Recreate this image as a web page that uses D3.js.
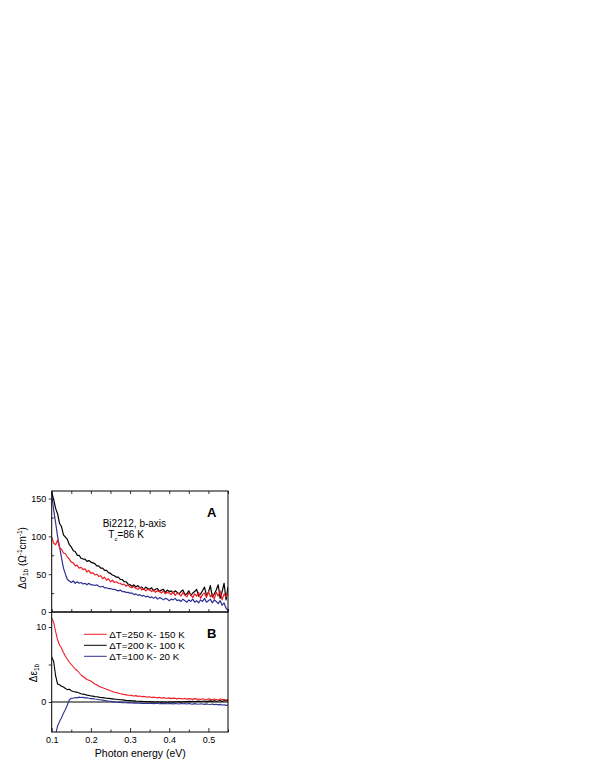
<!DOCTYPE html>
<html>
<head>
<meta charset="utf-8">
<script src="https://cdn.jsdelivr.net/npm/d3@7"></script>
<style>
  html, body { margin: 0; padding: 0; background: #fff; }
  svg { display: block; font-family: "Liberation Sans", Arial, sans-serif; }
</style>
</head>
<body>
<svg id="chart" width="599" height="776"></svg>
<script>
// ---------- data ----------
const energy = [
  0.100,0.105,0.110,0.115,0.120,0.125,0.130,0.135,0.140,0.145,
  0.150,0.155,0.160,0.165,0.170,0.175,0.180,0.185,0.190,0.195,
  0.200,0.205,0.210,0.215,0.220,0.225,0.230,0.235,0.240,0.245,
  0.250,0.255,0.260,0.265,0.270,0.275,0.280,0.285,0.290,0.295,
  0.300,0.305,0.310,0.315,0.320,0.325,0.330,0.335,0.340,0.345,
  0.350,0.355,0.360,0.365,0.370,0.375,0.380,0.385,0.390,0.395,
  0.400,0.405,0.410,0.415,0.420,0.425,0.430,0.435,0.440,0.445,
  0.450,0.455,0.460,0.465,0.470,0.475,0.480,0.485,0.490,0.495,
  0.500,0.505,0.510,0.515,0.520,0.525,0.530,0.535,0.540,0.545,
  0.550
];

// Panel A: Δσ1b (Ω^-1 cm^-1)
const sigma250_150 = [
  99,91,89,95,85,83,78,77,73,70,
  66,65,61,62,58,59,56,57,53,55,
  51,52,49,50,47,48,44,46,42,44,
  40,42,39,40,38,38,36,37,34,36,
  33,
  32,34,31,30,33,29,31,28,30,29,
  27,30,26,28,27,25,28,24,26,25,
  23,27,22,25,24,21,26,22,20,25,
  23,19,24,21,26,18,23,25,19,27,
  20,24,17,26,21,28,16,24,20,27
];
const sigma200_100 = [
  158,149,137,130,117,113,102,99,96,89,
  86,81,80,75,75,71,70,70,67,68,
  66,65,64,61,61,58,58,55,55,52,
  51,49,48,46,46,43,43,40,40,37,
  36,
  34,36,33,35,32,33,30,33,31,30,
  32,28,30,31,27,29,30,26,29,27,
  28,25,28,26,24,27,29,23,24,28,
  22,25,27,30,21,24,28,33,22,26,
  35,20,24,29,36,18,27,38,16,33
];
const sigma100_20 = [
  155,135,118,100,86,72,58,50,43,41,
  39,41,38,40,38,39,37,38,36,38,
  36,36,35,36,34,33,34,32,32,31,
  31,30,30,29,28,29,27,27,26,26,
  25,
  25,23,24,22,23,21,22,20,21,19,
  20,18,20,17,19,18,16,18,17,15,
  17,16,18,15,16,14,17,15,13,16,
  14,17,13,15,12,16,14,18,13,15,
  17,12,16,14,11,15,9,12,5,2
];

// Panel B: Δε1b
const eps250_150 = [
  11.2,10.6,9.4,8.3,7.6,7.2,6.6,6.1,5.7,5.3,
  5.0,4.7,4.4,4.2,3.9,3.6,3.4,3.2,3.0,2.9,
  2.8,2.6,2.4,2.3,2.1,2.0,1.9,1.8,1.7,1.6,
  1.5,1.4,1.3,1.25,1.2,1.1,1.05,1.0,0.95,0.9,
  0.9,
  0.85,0.8,0.85,0.75,0.8,0.7,0.75,0.7,0.65,0.7,
  0.6,0.65,0.6,0.55,0.62,0.5,0.58,0.52,0.5,0.55,
  0.45,0.52,0.48,0.42,0.5,0.45,0.4,0.48,0.38,0.45,
  0.42,0.35,0.45,0.38,0.4,0.32,0.44,0.36,0.3,0.42,
  0.35,0.28,0.4,0.33,0.25,0.42,0.3,0.35,0.22,0.38
];
const eps200_100 = [
  6.0,5.4,3.5,2.4,2.3,2.1,2.0,1.8,1.65,1.7,
  1.5,1.4,1.35,1.3,1.2,1.1,1.05,1.0,0.92,0.88,
  0.8,0.78,0.72,0.7,0.65,0.6,0.58,0.55,0.5,0.48,
  0.45,0.42,0.38,0.36,0.33,0.3,0.28,0.25,0.22,0.2,
  0.18,
  0.16,0.15,0.12,0.1,0.1,0.08,0.06,0.05,0.04,0.05,
  0.02,0.03,0.0,0.02,0.0,-0.02,0.01,0.0,-0.03,0.02,
  0.0,-0.02,0.03,0.0,0.05,-0.02,0.04,0.06,0.02,0.08,
  0.05,0.1,0.04,0.08,0.12,0.06,0.1,0.14,0.05,0.12,
  0.15,0.08,0.18,0.1,0.14,0.2,0.08,0.16,0.22,0.15
];
const eps100_20 = [
  null,null,-4.3,-3.2,-2.6,-2.1,-1.5,-1.0,-0.4,0.3,
  0.5,0.5,0.6,0.55,0.65,0.6,0.62,0.55,0.56,0.5,
  0.45,0.45,0.4,0.36,0.3,0.3,0.25,0.2,0.15,0.1,
  0.1,0.05,0.0,0.0,-0.05,-0.05,-0.08,-0.1,-0.1,-0.12,
  -0.1,
  -0.12,-0.15,-0.13,-0.16,-0.15,-0.18,-0.16,-0.2,-0.18,-0.2,
  -0.17,-0.22,-0.19,-0.2,-0.23,-0.18,-0.22,-0.2,-0.24,-0.19,
  -0.22,-0.25,-0.2,-0.23,-0.26,-0.21,-0.24,-0.22,-0.27,-0.2,
  -0.25,-0.28,-0.22,-0.26,-0.3,-0.24,-0.27,-0.32,-0.25,-0.3,
  -0.33,-0.27,-0.35,-0.3,-0.38,-0.32,-0.4,-0.36,-0.45,-0.4
];

const seriesLabels = ["\u0394T=250 K- 150 K", "\u0394T=200 K- 100 K", "\u0394T=100 K- 20 K"];
const seriesColors = ["#ee1c24", "#000000", "#2e3192"];

const xTicksMajor = [0.1, 0.2, 0.3, 0.4, 0.5];
const xTicksMinor = [0.15, 0.25, 0.35, 0.45, 0.55];
const yTicksA = [0, 50, 100, 150];
const yTicksAMinor = [25, 75, 125];
const yTicksB = [0, 10];
const yTicksBMinor = [5];

// ---------- layout ----------
const L = 51.7, R = 228, TA = 491, MID = 612, BB = 732;
const svg = d3.select("#chart");

const x = d3.scaleLinear().domain([0.1, 0.55]).range([L, R]);
const yA = d3.scaleLinear().domain([0, 160]).range([MID, TA]);
const yB = d3.scaleLinear().domain([-4, 12]).range([BB, MID]);

const defs = svg.append("defs");
defs.append("clipPath").attr("id", "clipA").append("rect")
  .attr("x", L).attr("y", TA).attr("width", R - L).attr("height", MID - TA);
defs.append("clipPath").attr("id", "clipB").append("rect")
  .attr("x", L).attr("y", MID).attr("width", R - L).attr("height", BB - MID);

function drawSeries(clipId, yScale, arrays, order, sw) {
  const g = svg.append("g").attr("clip-path", `url(#${clipId})`);
  const line = d3.line()
    .defined(d => d[1] !== null)
    .x(d => x(d[0])).y(d => yScale(d[1]));
  order.forEach(i => {
    const pts = energy.map((e, k) => [e, arrays[i][k]]);
    g.append("path").datum(pts)
      .attr("d", line)
      .attr("fill", "none")
      .attr("stroke", seriesColors[i])
      .attr("stroke-width", sw)
      .attr("stroke-linejoin", "round");
  });
  return g;
}

// zero line in panel B
svg.append("line")
  .attr("x1", L).attr("x2", R).attr("y1", yB(0)).attr("y2", yB(0))
  .attr("stroke", "#000").attr("stroke-width", 1);

drawSeries("clipA", yA, [sigma250_150, sigma200_100, sigma100_20], [2, 1, 0], 1.2);
drawSeries("clipB", yB, [eps250_150, eps200_100, eps100_20], [2, 1, 0], 1.1);

// ---------- axes ----------
const tickFont = "9px";
function styleAxis(g) {
  g.select(".domain").remove();
  g.selectAll("line").attr("stroke", "#000").attr("stroke-width", 0.8);
  g.selectAll("text").attr("font-size", tickFont).attr("fill", "#000")
    .attr("font-family", '"Liberation Sans", Arial, sans-serif');
}

// bottom x axis (labels), ticks pointing inward
svg.append("g").attr("transform", `translate(0,${BB})`)
  .call(d3.axisBottom(x).tickValues(xTicksMajor).tickSize(-4).tickPadding(5).tickFormat(d3.format(".1f")))
  .call(styleAxis);
svg.append("g").attr("transform", `translate(0,${BB})`)
  .call(d3.axisBottom(x).tickValues(xTicksMinor).tickSize(-2.5).tickFormat(""))
  .call(styleAxis);
// middle line ticks (into panel A)
svg.append("g").attr("transform", `translate(0,${MID})`)
  .call(d3.axisBottom(x).tickValues(xTicksMajor.concat(xTicksMinor)).tickSize(-3).tickFormat(""))
  .call(styleAxis);
// top axis of panel A
svg.append("g").attr("transform", `translate(0,${TA})`)
  .call(d3.axisTop(x).tickValues(xTicksMajor.concat(xTicksMinor)).tickSize(-3).tickFormat(""))
  .call(styleAxis);

// left axes
svg.append("g").attr("transform", `translate(${L},0)`)
  .call(d3.axisLeft(yA).tickValues(yTicksA).tickSize(3).tickPadding(2.5))
  .call(styleAxis);
svg.append("g").attr("transform", `translate(${L},0)`)
  .call(d3.axisLeft(yA).tickValues(yTicksAMinor).tickSize(-2.5).tickFormat(""))
  .call(styleAxis);
svg.append("g").attr("transform", `translate(${L},0)`)
  .call(d3.axisLeft(yB).tickValues(yTicksB).tickSize(3).tickPadding(2.5))
  .call(styleAxis);
svg.append("g").attr("transform", `translate(${L},0)`)
  .call(d3.axisLeft(yB).tickValues(yTicksBMinor).tickSize(3).tickFormat(""))
  .call(styleAxis);

// panel frames
[[TA, MID], [MID, BB]].forEach(([t, b]) => {
  svg.append("rect").attr("x", L).attr("y", t).attr("width", R - L).attr("height", b - t)
    .attr("fill", "none").attr("stroke", "#000").attr("stroke-width", 1);
});

// ---------- text ----------
const ff = '"Liberation Sans", Arial, sans-serif';

svg.append("text").attr("x", (L + R) / 2 + 0.5).attr("y", 757)
  .attr("text-anchor", "middle").attr("font-size", "10.5px").attr("font-family", ff)
  .text("Photon energy (eV)");

// y label A
const ylA = svg.append("text").attr("transform", "translate(25.5,558) rotate(-90)")
  .attr("text-anchor", "middle").attr("font-size", "10px").attr("font-family", ff);
ylA.append("tspan").text("\u0394\u03c3");
ylA.append("tspan").attr("font-size", "6.5px").attr("dy", "2.5").text("1b");
ylA.append("tspan").attr("dy", "-2.5").text(" (\u03a9");
ylA.append("tspan").attr("font-size", "6.5px").attr("dy", "-4").text("-1");
ylA.append("tspan").attr("dy", "4").text("cm");
ylA.append("tspan").attr("font-size", "6.5px").attr("dy", "-4").text("-1");
ylA.append("tspan").attr("dy", "4").text(")");

// y label B
const ylB = svg.append("text").attr("transform", "translate(36.5,673) rotate(-90)")
  .attr("text-anchor", "middle").attr("font-size", "10px").attr("font-family", ff);
ylB.append("tspan").text("\u0394\u03b5");
ylB.append("tspan").attr("font-size", "6.5px").attr("dy", "2.5").text("1b");

// annotations
svg.append("text").attr("x", 102.7).attr("y", 526.5).attr("font-size", "10px").attr("font-family", ff)
  .text("Bi2212, b-axis");
const tc = svg.append("text").attr("x", 108.3).attr("y", 538).attr("font-size", "10px").attr("font-family", ff);
tc.append("tspan").text("T");
tc.append("tspan").attr("font-size", "6px").attr("dy", "2.5").text("c");
tc.append("tspan").attr("dy", "-2.5").text("=86 K");

svg.append("text").attr("x", 216.5).attr("y", 516.7).attr("text-anchor", "end")
  .attr("font-size", "13px").attr("font-weight", "bold").attr("font-family", ff).text("A");
svg.append("text").attr("x", 216.5).attr("y", 637.7).attr("text-anchor", "end")
  .attr("font-size", "13px").attr("font-weight", "bold").attr("font-family", ff).text("B");

// legend
const legRows = [634.3, 645.3, 656.3];
seriesLabels.forEach((lab, i) => {
  svg.append("line").attr("x1", 84).attr("x2", 106.7).attr("y1", legRows[i]).attr("y2", legRows[i])
    .attr("stroke", seriesColors[i]).attr("stroke-width", 1);
  svg.append("text").attr("x", 109.3).attr("y", legRows[i] + 3.6)
    .attr("font-size", "9.8px").attr("font-family", ff).text(lab);
});
</script>
</body>
</html>
